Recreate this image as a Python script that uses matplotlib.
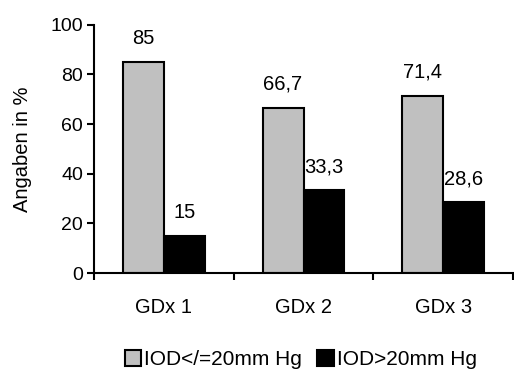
import numpy as np
import matplotlib.pyplot as plt

# - Chart data
categories = ['GDx 1', 'GDx 2', 'GDx 3']
iod_low = [85, 66.7, 71.4]
iod_high = [15, 33.3, 28.6]
labels_low = ['85', '66,7', '71,4']
labels_high = ['15', '33,3', '28,6']
series_names = ['IOD</=20mm Hg', 'IOD>20mm Hg']

plt.rcParams['font.family'] = ['Liberation Sans', 'DejaVu Sans']
plt.rcParams['font.size'] = 14

fig = plt.figure(figsize=(5.14, 3.71), dpi=100)
ax = fig.add_axes([0.183, 0.264, 0.815, 0.669])

x = np.arange(len(categories))
width = 0.293
b1 = ax.bar(x - width / 2, iod_low, width, color='#C0C0C0',
            edgecolor='black', linewidth=1.5, label=series_names[0])
b2 = ax.bar(x + width / 2, iod_high, width, color='black',
            edgecolor='black', linewidth=1.5, label=series_names[1])

for rect, lab in zip(list(b1) + list(b2), labels_low + labels_high):
    ax.annotate(lab, (rect.get_x() + rect.get_width() / 2, rect.get_height()),
                xytext=(0, 10), textcoords='offset points',
                ha='center', va='bottom', fontsize=14.5)

ax.set_xlim(-0.5, 2.5)
ax.set_ylim(0, 100)
ax.set_yticks([0, 20, 40, 60, 80, 100])
ax.set_xticks(x)
ax.set_xticklabels(categories)
ax.set_xticks([-0.5, 0.5, 1.5, 2.5], minor=True)
ax.tick_params(axis='x', which='major', length=0, pad=18, labelsize=14.5)
ax.tick_params(axis='x', which='minor', length=5, width=1.5, direction='out')
ax.tick_params(axis='y', length=5, width=1.5, direction='out', pad=3)
ax.set_ylabel('Angaben in %', labelpad=13, fontsize=14.5)

for side in ['top', 'right']:
    ax.spines[side].set_visible(False)
for side in ['left', 'bottom']:
    ax.spines[side].set_linewidth(1.5)

fig.legend(handles=[b1, b2], loc='center', bbox_to_anchor=(0.585, 0.03),
           ncol=2, frameon=False, handlelength=0.8, handleheight=0.8,
           handletextpad=0.15, columnspacing=0.7, fontsize=15)

plt.savefig('out.png', dpi=100)
plt.close()
